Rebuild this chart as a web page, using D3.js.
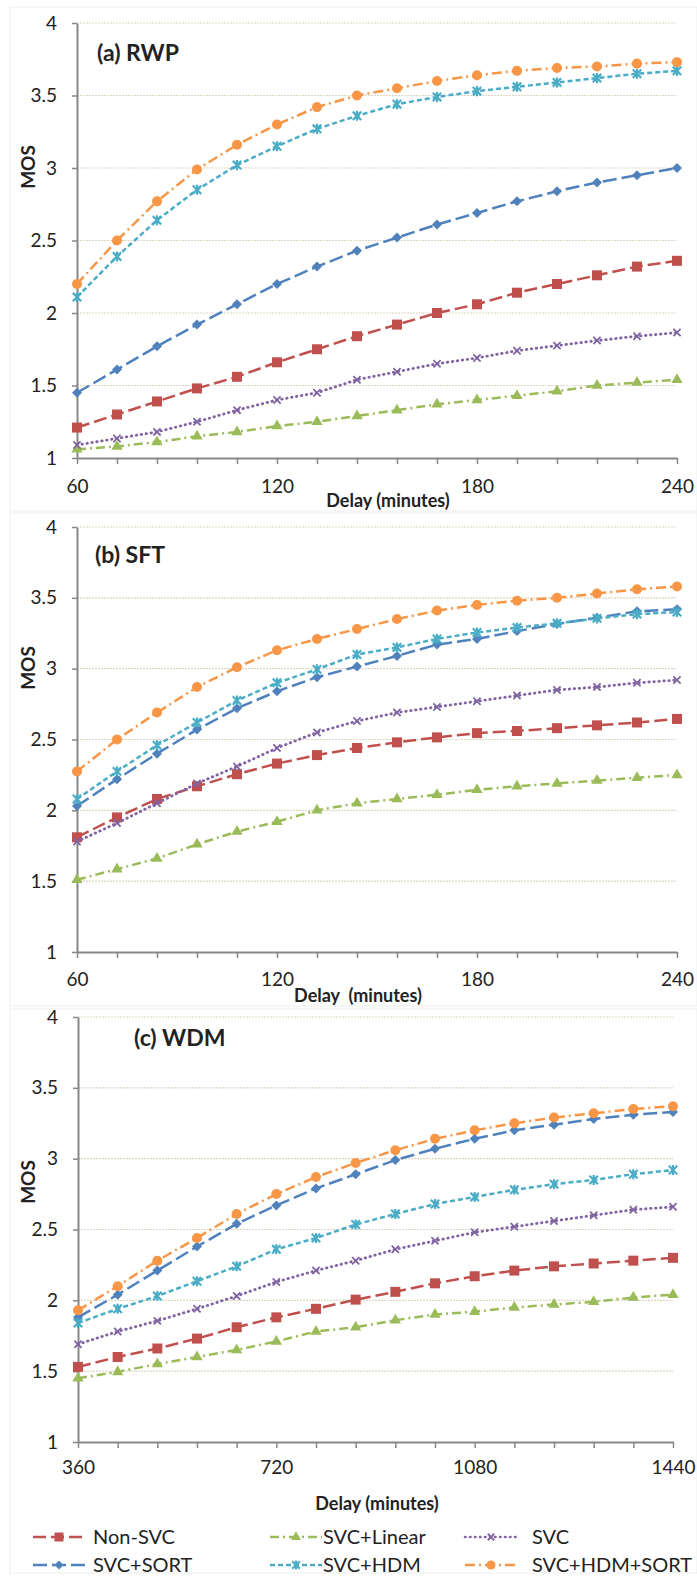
<!DOCTYPE html>
<html>
<head>
<meta charset="utf-8">
<script src="https://cdn.jsdelivr.net/npm/d3@7"></script>
<style>
  body { margin: 0; background: #fff; }
  svg text { font-family: Lato, "Open Sans", "DejaVu Sans", sans-serif; fill: #222; }
</style>
</head>
<body>
<svg id="chart" width="697" height="1576"></svg>
<script>
// ---- data -------------------------------------------------------------
const delayShort = [60, 72, 84, 96, 108, 120, 132, 144, 156, 168, 180, 192, 204, 216, 228, 240];
const delayLong = [360, 432, 504, 576, 648, 720, 792, 864, 936, 1008, 1080, 1152, 1224, 1296, 1368, 1440];
const shortTickLabels = [60, 120, 180, 240];
const longTickLabels = [360, 720, 1080, 1440];
const mosTicks = [1, 1.5, 2, 2.5, 3, 3.5, 4];
const seriesNames = ["Non-SVC", "SVC+Linear", "SVC", "SVC+SORT", "SVC+HDM", "SVC+HDM+SORT"];

// (a) RWP
const rwpNonSvc   = [1.21, 1.30, 1.39, 1.48, 1.56, 1.66, 1.75, 1.84, 1.92, 2.00, 2.06, 2.14, 2.20, 2.26, 2.32, 2.36];
const rwpLinear   = [1.06, 1.08, 1.11, 1.15, 1.18, 1.22, 1.25, 1.29, 1.33, 1.37, 1.40, 1.43, 1.46, 1.50, 1.52, 1.54];
const rwpSvc      = [1.09, 1.135, 1.18, 1.25, 1.33, 1.40, 1.45, 1.54, 1.595, 1.65, 1.69, 1.74, 1.775, 1.81, 1.84, 1.865];
const rwpSort     = [1.45, 1.61, 1.77, 1.92, 2.06, 2.20, 2.32, 2.43, 2.52, 2.61, 2.69, 2.77, 2.84, 2.90, 2.95, 3.00];
const rwpHdm      = [2.11, 2.39, 2.64, 2.85, 3.02, 3.15, 3.27, 3.36, 3.44, 3.49, 3.53, 3.56, 3.59, 3.62, 3.65, 3.67];
const rwpHdmSort  = [2.20, 2.50, 2.77, 2.99, 3.16, 3.30, 3.42, 3.50, 3.55, 3.60, 3.64, 3.67, 3.69, 3.70, 3.72, 3.73];

// (b) SFT
const sftNonSvc   = [1.81, 1.95, 2.08, 2.17, 2.255, 2.33, 2.39, 2.44, 2.48, 2.515, 2.545, 2.56, 2.58, 2.60, 2.62, 2.645];
const sftLinear   = [1.51, 1.585, 1.66, 1.76, 1.85, 1.92, 2.00, 2.05, 2.08, 2.11, 2.145, 2.17, 2.19, 2.21, 2.23, 2.25];
const sftSvc      = [1.78, 1.91, 2.05, 2.19, 2.31, 2.44, 2.55, 2.63, 2.69, 2.73, 2.77, 2.81, 2.85, 2.87, 2.90, 2.92];
const sftSort     = [2.03, 2.22, 2.40, 2.57, 2.72, 2.84, 2.94, 3.015, 3.09, 3.17, 3.21, 3.265, 3.315, 3.36, 3.405, 3.42];
const sftHdm      = [2.08, 2.275, 2.46, 2.62, 2.775, 2.90, 2.995, 3.10, 3.15, 3.21, 3.255, 3.29, 3.32, 3.355, 3.385, 3.40];
const sftHdmSort  = [2.275, 2.50, 2.69, 2.87, 3.01, 3.13, 3.21, 3.28, 3.35, 3.41, 3.45, 3.48, 3.50, 3.53, 3.56, 3.58];

// (c) WDM
const wdmNonSvc   = [1.53, 1.60, 1.66, 1.73, 1.81, 1.88, 1.94, 2.005, 2.06, 2.12, 2.17, 2.21, 2.24, 2.26, 2.28, 2.30];
const wdmLinear   = [1.45, 1.495, 1.55, 1.60, 1.65, 1.71, 1.78, 1.81, 1.86, 1.90, 1.92, 1.95, 1.97, 1.99, 2.02, 2.04];
const wdmSvc      = [1.69, 1.78, 1.855, 1.94, 2.03, 2.13, 2.21, 2.28, 2.36, 2.42, 2.48, 2.52, 2.56, 2.60, 2.64, 2.66];
const wdmSort     = [1.88, 2.04, 2.21, 2.38, 2.54, 2.67, 2.79, 2.89, 2.99, 3.07, 3.14, 3.20, 3.24, 3.28, 3.31, 3.33];
const wdmHdm      = [1.84, 1.94, 2.03, 2.135, 2.24, 2.36, 2.44, 2.535, 2.61, 2.68, 2.73, 2.78, 2.82, 2.85, 2.89, 2.92];
const wdmHdmSort  = [1.93, 2.10, 2.28, 2.44, 2.61, 2.75, 2.87, 2.97, 3.06, 3.14, 3.20, 3.25, 3.29, 3.32, 3.35, 3.37];

// ---- series styling ----------------------------------------------------
const styles = {
  "Non-SVC":      { color: "#C0504D", dash: "13,5",      marker: "square" },
  "SVC+Linear":   { color: "#9BBB59", dash: "9,4,2,4",   marker: "triangle" },
  "SVC":          { color: "#8064A2", dash: "0.5,4.5",   marker: "x" },
  "SVC+SORT":     { color: "#4F81BD", dash: "14,5",      marker: "diamond" },
  "SVC+HDM":      { color: "#4BACC6", dash: "5,3",       marker: "star" },
  "SVC+HDM+SORT": { color: "#F79646", dash: "10,4,2,4",  marker: "circle" }
};

// marker path generators (centred on 0,0)
function markerPath(kind, s) {
  switch (kind) {
    case "square":   return d3.symbol(d3.symbolSquare, s * s)();
    case "diamond":  return d3.symbol(d3.symbolSquare, s * s / 2)();
    case "circle":   return d3.symbol(d3.symbolCircle, Math.PI * s * s / 4)();
    case "triangle": return d3.symbol(d3.symbolTriangle, s * s * 0.55)();
    case "x": {
      const r = s * 0.36;
      return `M${-r},${-r}L${r},${r}M${-r},${r}L${r},${-r}`;
    }
    case "star": {
      const r = s * 0.42;
      return `M${-r},${-r}L${r},${r}M${-r},${r}L${r},${-r}M0,${-r * 1.2}L0,${r * 1.2}`;
    }
  }
}
function drawMarker(g, kind, color, s) {
  const p = g.append("path").attr("d", markerPath(kind, s));
  if (kind === "x" || kind === "star") {
    p.attr("fill", "none").attr("stroke", color).attr("stroke-width", kind === "x" ? 1.8 : 2.2);
  } else {
    p.attr("fill", color);
    if (kind === "diamond") p.attr("transform", "rotate(45)");
  }
  return p;
}

// ---- panels -----------------------------------------------------------
const panels = [
  {
    title: "(a) RWP", cats: delayShort, labels: shortTickLabels,
    values: [rwpNonSvc, rwpLinear, rwpSvc, rwpSort, rwpHdm, rwpHdmSort],
    frame: [10, 7, 687, 504], x: [77, 677], y: [458, 23],
    titlePos: [97, 61], mosY: 167, tickPad: 16, xLabel: "Delay (minutes)", xLabelPos: [388, 507]
  },
  {
    title: "(b) SFT", cats: delayShort, labels: shortTickLabels,
    values: [sftNonSvc, sftLinear, sftSvc, sftSort, sftHdm, sftHdmSort],
    frame: [10, 513, 687, 493], x: [77, 677], y: [952, 527],
    titlePos: [95, 563], mosY: 668, tickPad: 15, xLabel: "Delay  (minutes)", xLabelPos: [358, 1002]
  },
  {
    title: "(c) WDM", cats: delayLong, labels: longTickLabels,
    values: [wdmNonSvc, wdmLinear, wdmSvc, wdmSort, wdmHdm, wdmHdmSort],
    frame: [10, 1009, 687, 564], x: [78, 673], y: [1442, 1017],
    titlePos: [134, 1046], mosY: 1182, tickPad: 13, xLabel: "Delay (minutes)", xLabelPos: [377, 1510]
  }
];

const svg = d3.select("#chart");
svg.append("rect").attr("width", 697).attr("height", 1576).attr("fill", "#fff");

panels.forEach(p => {
  const g = svg.append("g");

  // faint chart-area frame
  g.append("rect")
    .attr("x", p.frame[0]).attr("y", p.frame[1])
    .attr("width", p.frame[2]).attr("height", p.frame[3])
    .attr("fill", "none").attr("stroke", "#ededed").attr("stroke-width", 1);

  const x = d3.scalePoint().domain(p.cats).range(p.x);
  const y = d3.scaleLinear().domain([1, 4]).range(p.y);

  // horizontal gridlines
  g.append("g").selectAll("line")
    .data(mosTicks.filter(t => t > 1))
    .join("line")
    .attr("x1", p.x[0]).attr("x2", p.x[1])
    .attr("y1", d => y(d)).attr("y2", d => y(d))
    .attr("stroke", "#dcd6c2").attr("stroke-width", 1.2).attr("stroke-dasharray", "2,1");

  // y axis
  const yAxis = g.append("g")
    .attr("transform", `translate(${p.x[0]},0)`)
    .call(d3.axisLeft(y).tickValues(mosTicks).tickFormat(d => String(d))
      .tickSize(5).tickSizeOuter(0).tickPadding(15));
  // x axis
  const labelSet = new Set(p.labels);
  const xAxis = g.append("g")
    .attr("transform", `translate(0,${p.y[0]})`)
    .call(d3.axisBottom(x).tickValues(p.cats)
      .tickFormat(d => labelSet.has(d) ? String(d) : "")
      .tickSize(6).tickSizeOuter(0).tickPadding(p.tickPad));
  [yAxis, xAxis].forEach(ax => {
    ax.select(".domain").attr("stroke", "#878787").attr("stroke-width", 2);
    ax.selectAll(".tick line").attr("stroke", "#878787").attr("stroke-width", 1.5);
    ax.selectAll(".tick text").attr("font-size", 19).attr("fill", "#222")
      .style("font-family", "Lato, 'Open Sans', sans-serif");
  });

  // series
  const line = d3.line().x((d, i) => x(p.cats[i])).y(d => y(d));
  seriesNames.forEach((name, si) => {
    const st = styles[name];
    const vals = p.values[si];
    g.append("path")
      .attr("d", line(vals))
      .attr("fill", "none")
      .attr("stroke", st.color)
      .attr("stroke-width", name === "SVC" ? 2.8 : 2.5)
      .attr("stroke-dasharray", st.dash)
      .attr("stroke-linecap", name === "SVC" ? "round" : "butt");
    vals.forEach((v, i) => {
      const mg = g.append("g").attr("transform", `translate(${x(p.cats[i])},${y(v)})`);
      drawMarker(mg, st.marker, st.color, 10);
    });
  });

  // titles and axis labels
  g.append("text")
    .attr("x", p.titlePos[0]).attr("y", p.titlePos[1])
    .attr("font-size", 23).attr("font-weight", "bold")
    .text(p.title);
  g.append("text")
    .attr("transform", `translate(35,${p.mosY}) rotate(-90)`)
    .attr("text-anchor", "middle")
    .attr("font-size", 19).attr("font-weight", "bold")
    .text("MOS");
  g.append("text")
    .attr("x", p.xLabelPos[0]).attr("y", p.xLabelPos[1])
    .attr("text-anchor", "middle")
    .attr("font-size", 18).attr("font-weight", "bold")
    .attr("xml:space", "preserve")
    .style("white-space", "pre")
    .text(p.xLabel);
});

// ---- legend ------------------------------------------------------------
const legendCols = [33, 270, 465];
const legendRows = [1537, 1565];
const legendTextX = [93, 323, 532];
seriesNames.forEach((name, i) => {
  const st = styles[name];
  const col = i % 3, row = Math.floor(i / 3);
  const lg = svg.append("g").attr("transform", `translate(${legendCols[col]},${legendRows[row]})`);
  lg.append("line")
    .attr("x1", 0).attr("x2", 52).attr("y1", 0).attr("y2", 0)
    .attr("stroke", st.color).attr("stroke-width", name === "SVC" ? 2.6 : 2.4)
    .attr("stroke-dasharray", st.dash)
    .attr("stroke-linecap", name === "SVC" ? "round" : "butt");
  const mg = lg.append("g").attr("transform", "translate(26,0)");
  drawMarker(mg, st.marker, st.color, 9);
  svg.append("text")
    .attr("x", legendTextX[col]).attr("y", legendRows[row] + 7)
    .attr("font-size", 20)
    .text(name);
});
</script>
</body>
</html>
